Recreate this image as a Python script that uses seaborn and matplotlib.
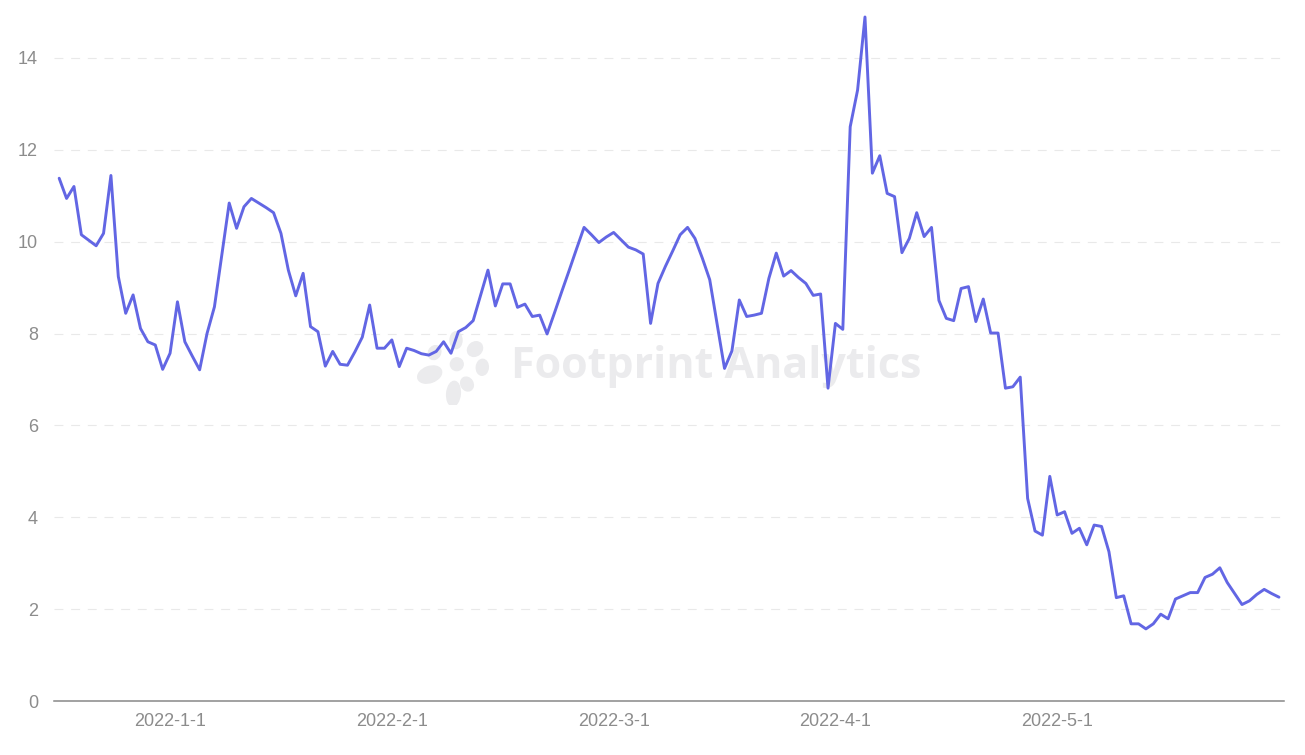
import matplotlib
matplotlib.use("Agg")
import matplotlib.pyplot as plt
import numpy as np
import pandas as pd
import seaborn as sns
from matplotlib.patches import Circle, Ellipse

# daily values
values = [
    11.38, 10.94, 11.20, 10.15, 10.03, 9.91, 10.18, 11.44, 9.24, 8.44,
    8.84, 8.11, 7.82, 7.75, 7.22, 7.57, 8.69, 7.82, 7.51, 7.21,
    8.00, 8.58, 9.71, 10.84, 10.29, 10.76, 10.94, 10.84, 10.74, 10.63,
    10.18, 9.38, 8.82, 9.31, 8.15, 8.04, 7.29, 7.61, 7.33, 7.31,
    7.60, 7.92, 8.62, 7.68, 7.68, 7.86, 7.28, 7.68, 7.63, 7.56,
    7.53, 7.61, 7.82, 7.57, 8.04, 8.13, 8.28, 8.83, 9.38, 8.60,
    9.08, 9.08, 8.57, 8.64, 8.37, 8.40, 7.99, 8.45, 8.92, 9.38,
    9.85, 10.31, 10.15, 9.98, 10.10, 10.20, 10.04, 9.88, 9.82, 9.73,
    8.22, 9.09, 9.46, 9.80, 10.15, 10.31, 10.07, 9.64, 9.17, 8.21,
    7.24, 7.62, 8.73, 8.37, 8.40, 8.44, 9.20, 9.75, 9.25, 9.37,
    9.22, 9.09, 8.83, 8.86, 6.81, 8.22, 8.09, 12.50, 13.30, 14.89,
    11.49, 11.87, 11.05, 10.98, 9.76, 10.07, 10.63, 10.11, 10.31, 8.72,
    8.33, 8.28, 8.98, 9.02, 8.26, 8.75, 8.01, 8.01, 6.81, 6.84,
    7.05, 4.41, 3.70, 3.61, 4.89, 4.05, 4.12, 3.65, 3.76, 3.40,
    3.83, 3.80, 3.25, 2.25, 2.29, 1.68, 1.68, 1.57, 1.68, 1.89,
    1.79, 2.22, 2.29, 2.36, 2.36, 2.69, 2.76, 2.90, 2.58, 2.34,
    2.10, 2.18, 2.32, 2.43, 2.34, 2.26,
]
tick_labels = ["2022-1-1", "2022-2-1", "2022-3-1", "2022-4-1", "2022-5-1"]
first_label_idx = 15
label_every = 30

LINE = "#6266E4"
GREY = "#8c8c8c"
WM = "#ebebed"

df = pd.DataFrame({"idx": np.arange(len(values)), "value": values})

sns.set_style("white")
plt.rcParams["font.family"] = ["Liberation Sans", "DejaVu Sans"]

W, H = 1305, 755
fig = plt.figure(figsize=(W / 100, H / 100), dpi=100)
fig.patch.set_facecolor("white")

# watermark logo (behind the chart)
logo = fig.add_axes([416 / W, 1 - 405 / H, 80 / W, 80 / H])
logo.set_xlim(-1, 1)
logo.set_ylim(-1, 1)
logo.axis("off")
logo.set_zorder(0)
logo.add_patch(Circle((0.02, 0.02), 0.16, color=WM))
for ang, r, w, h in [(90, 0.62, 0.30, 0.42), (40, 0.62, 0.34, 0.40), (-5, 0.66, 0.40, 0.30),
                     (-60, 0.55, 0.30, 0.36), (-95, 0.72, 0.34, 0.62), (-160, 0.70, 0.40, 0.62),
                     (150, 0.62, 0.36, 0.30)]:
    a = np.deg2rad(ang)
    logo.add_patch(Ellipse((r * np.cos(a), r * np.sin(a)), w, h, angle=ang - 90, color=WM))

ax = fig.add_axes([54 / W, 54 / H, 1230 / W, (701 - 17) / H])
ax.set_zorder(1)
ax.patch.set_alpha(0)

ax.text(511 / W, 1 - 366 / H, "Footprint Analytics", transform=fig.transFigure,
        fontsize=31, fontweight="bold", color=WM, ha="left", va="center",
        family=["Open Sans", "DejaVu Sans"], zorder=0.5)

sns.lineplot(data=df, x="idx", y="value", ax=ax, color=LINE, linewidth=2.1,
             clip_on=False, zorder=3)

x0, x1 = -0.7, len(values) - 1 + 0.68
ax.set_xlim(x0, x1)
ax.set_ylim(0, max(values))

ax.set_yticks(range(0, 15, 2))
ax.grid(axis="y", color="#e9e9e9", linestyle=(0, (8, 7)), linewidth=0.8)
ax.grid(axis="x", visible=False)

ax.set_xticks(range(first_label_idx, len(values), label_every)[:len(tick_labels)])
ax.set_xticklabels(tick_labels)
ax.set_xticks([x0, x1], minor=True)

ax.tick_params(axis="y", length=0, pad=11.5, labelsize=13, labelcolor=GREY)
ax.tick_params(axis="x", which="major", length=0, pad=9, labelsize=13, labelcolor=GREY)
ax.tick_params(axis="x", which="minor", length=7, width=1, color="#888888")

for s in ["top", "right", "left"]:
    ax.spines[s].set_visible(False)
ax.spines["bottom"].set_color("#888888")
ax.spines["bottom"].set_linewidth(1.1)

ax.set_xlabel("")
ax.set_ylabel("")

fig.savefig("out.png", dpi=100)
